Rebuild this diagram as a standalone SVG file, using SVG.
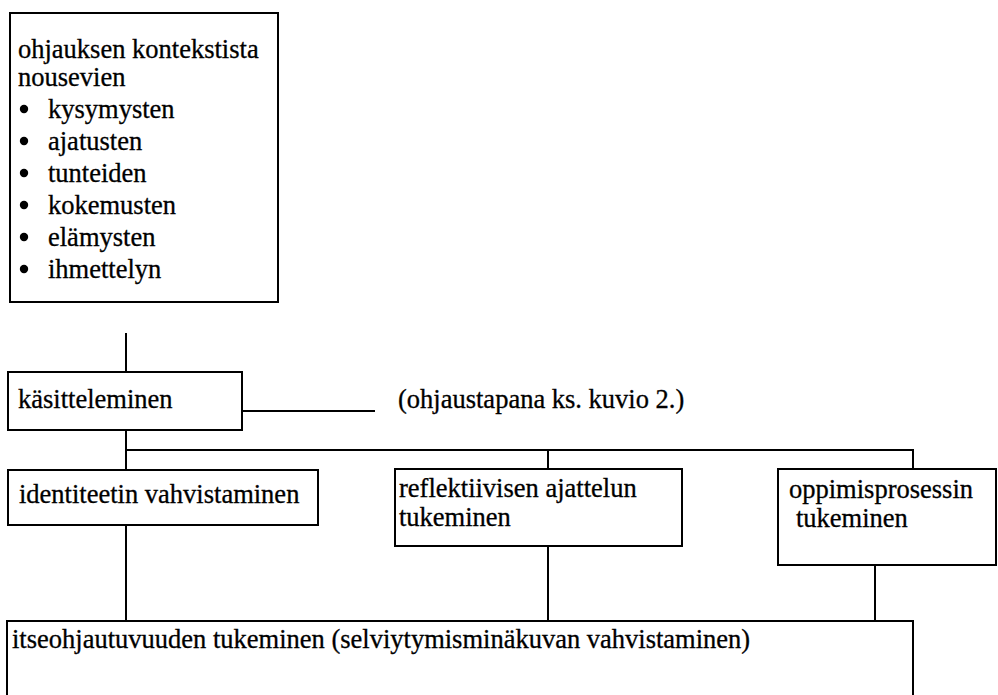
<svg xmlns="http://www.w3.org/2000/svg" width="998" height="695" viewBox="0 0 998 695" font-family="'Liberation Serif', 'Times New Roman', serif">
  <style>
    .box { fill: #ffffff; stroke: #000000; stroke-width: 2; }
    .wire { fill: none; stroke: #000000; stroke-width: 2; }
    .t { font-family: 'Liberation Serif', 'Times New Roman', serif; font-size: 26.5px; fill: #000000; stroke: #000000; stroke-width: 0.3; }
    .dot { fill: #000000; }
  </style>
  <rect width="998" height="695" fill="#ffffff"/>

  <!-- connectors -->
  <g id="connectors" class="wire">
    <line x1="126" y1="333" x2="126" y2="372"/>
    <line x1="242" y1="411" x2="375" y2="411"/>
    <line x1="126" y1="430" x2="126" y2="470"/>
    <polyline points="126,450 913,450 913,469"/>
    <line x1="548" y1="450" x2="548" y2="469"/>
    <line x1="126" y1="525" x2="126" y2="621"/>
    <line x1="548" y1="546" x2="548" y2="621"/>
    <line x1="875" y1="565" x2="875" y2="621"/>
  </g>

  <!-- context list -->
  <g id="context">
    <rect class="box" x="10" y="13" width="268" height="289"/>
    <text class="t" x="18" y="58">ohjauksen kontekstista</text>
    <text class="t" x="18" y="86">nousevien</text>
    <circle class="dot" cx="24" cy="109" r="4.2"/>
    <text class="t" x="48" y="118">kysymysten</text>
    <circle class="dot" cx="24" cy="141" r="4.2"/>
    <text class="t" x="48" y="150">ajatusten</text>
    <circle class="dot" cx="24" cy="173" r="4.2"/>
    <text class="t" x="48" y="182">tunteiden</text>
    <circle class="dot" cx="24" cy="205" r="4.2"/>
    <text class="t" x="48" y="214">kokemusten</text>
    <circle class="dot" cx="24" cy="237" r="4.2"/>
    <text class="t" x="48" y="246">elämysten</text>
    <circle class="dot" cx="24" cy="269" r="4.2"/>
    <text class="t" x="48" y="278">ihmettelyn</text>
  </g>

  <!-- processing -->
  <g id="kasitteleminen">
    <rect class="box" x="8" y="372" width="234" height="58"/>
    <text class="t" x="18" y="408">käsitteleminen</text>
  </g>

  <g id="note">
    <text class="t" x="398" y="408">(ohjaustapana ks. kuvio 2.)</text>
  </g>

  <!-- support areas -->
  <g id="identiteetti">
    <rect class="box" x="8" y="470" width="310" height="55"/>
    <text class="t" x="19" y="503">identiteetin vahvistaminen</text>
  </g>

  <g id="reflektiivinen">
    <rect class="box" x="395" y="469" width="287" height="77"/>
    <text class="t" x="399" y="497">reflektiivisen ajattelun</text>
    <text class="t" x="399" y="526">tukeminen</text>
  </g>

  <g id="oppimisprosessi">
    <rect class="box" x="778" y="469" width="218" height="96"/>
    <text class="t" x="789" y="498">oppimisprosessin</text>
    <text class="t" x="796" y="527">tukeminen</text>
  </g>

  <!-- outcome -->
  <g id="itseohjautuvuus">
    <rect class="box" x="7" y="621" width="906" height="90"/>
    <text class="t" x="12" y="648">itseohjautuvuuden tukeminen (selviytymisminäkuvan vahvistaminen)</text>
  </g>
</svg>
